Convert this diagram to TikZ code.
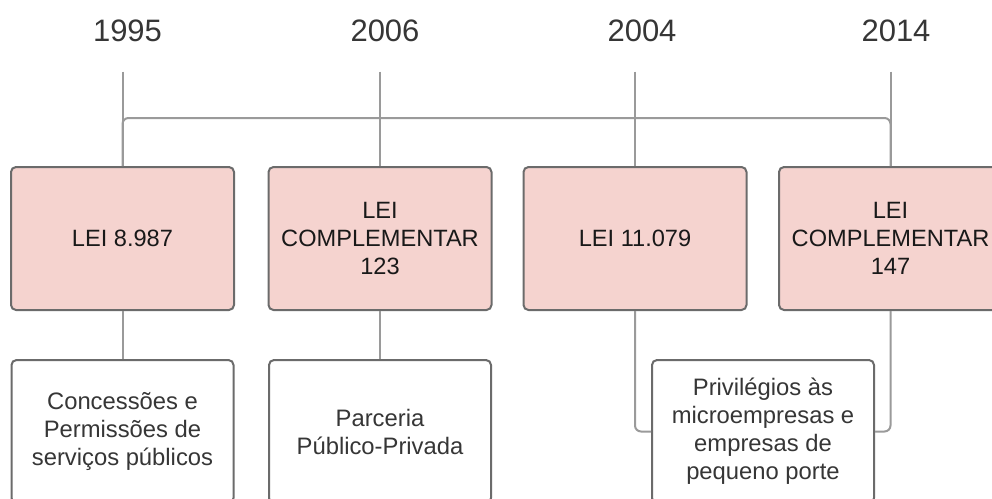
\documentclass[tikz,border=0pt]{standalone}
\usepackage{fontspec}
\setmainfont{Liberation Sans}
\usetikzlibrary{calc}

\definecolor{lawpink}{HTML}{F5D3CF}
\definecolor{edgegray}{HTML}{6B6B6B}
\definecolor{linegray}{HTML}{9A9A9A}
\definecolor{textgray}{HTML}{363636}

\begin{document}
\begin{tikzpicture}[x=1pt,y=-1pt,
law/.style={draw=edgegray,line width=2pt,fill=lawpink,rounded corners=5pt,minimum width=223pt,minimum height=143pt,align=center,font=\fontsize{23.6}{28}\selectfont,text=black!90},
desc/.style={draw=edgegray,line width=2pt,fill=white,rounded corners=5pt,minimum width=222pt,minimum height=143pt,align=center,font=\fontsize{23.8}{28}\selectfont,text=textgray},
year/.style={inner sep=0pt,font=\fontsize{31}{31}\selectfont,text=textgray},
link/.style={draw=linegray,line width=2pt,rounded corners=6pt}
]
\useasboundingbox (0,0) rectangle (992,498);
\clip (0,0) rectangle (992,498);

\node[year] (y1) at (127.5,30.5) {1995};
\node[year] (y2) at (385,30.5) {2006};
\node[year] (y3) at (642,30.5) {2004};
\node[year] (y4) at (896,30.5) {2014};

\node[law] (l1) at (122.5,238.5) {LEI 8.987};
\node[law] (l2) at (380,238.5) {LEI\\COMPLEMENTAR\\123};
\node[law] (l3) at (635,238.5) {LEI 11.079};
\node[law] (l4) at (890.5,238.5) {LEI\\COMPLEMENTAR\\147};

\node[desc] (d1) at (122.5,431.5) {Concessões e\\Permissões de\\serviços públicos};
\node[desc] (d2) at (380,431.5) {Parceria\\Público-Privada};
\node[desc] (d3) at (763,431.5) {Privilégios às\\microempresas e\\empresas de\\pequeno porte};

% years to laws
\draw[link] ($(y1.south -| l1.north)+(0,30)$) -- (l1.north);
\draw[link] ($(y2.south -| l2.north)+(0,30)$) -- (l2.north);
\draw[link] ($(y3.south -| l3.north)+(0,30)$) -- (l3.north);
\draw[link] ($(y4.south -| l4.north)+(0,30)$) -- (l4.north);
\draw[link] (l1.north) -- ++(0,-48) -| (l4.north);

% laws to descriptions
\draw[link] (l1.south) -- (d1.north);
\draw[link] (l2.south) -- (d2.north);
\draw[link] (l3.south) |- (d3.west);
\draw[link] (l4.south) |- (d3.east);

\end{tikzpicture}
\end{document}
